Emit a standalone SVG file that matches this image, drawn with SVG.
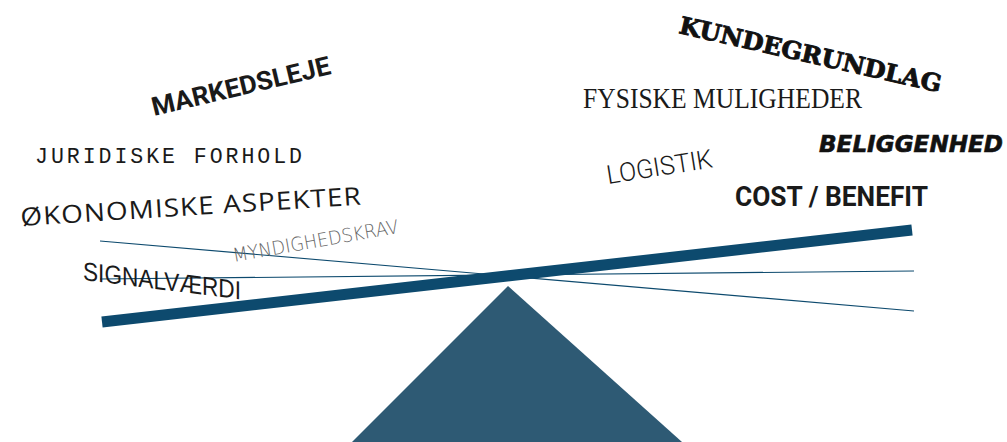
<svg xmlns="http://www.w3.org/2000/svg" width="1007" height="442" viewBox="0 0 1007 442">
<style>
.t{fill:#1a1a1a}
.thin{stroke:#0d4a6e;stroke-width:1.2;fill:none}
</style>
<rect width="1007" height="442" fill="#ffffff"/>
<g id="scale">
<polygon points="508,286 352,442 682,442" fill="#2e5a74"/>
<g id="connectors">
<line class="thin" x1="100" y1="241" x2="914" y2="311"/>
<line class="thin" x1="100" y1="279" x2="914" y2="271"/>
<line x1="102" y1="322" x2="912" y2="230" stroke="#0d4a6e" stroke-width="11"/>
</g>
</g>
<g id="markedsleje"><text class="t" transform="translate(154,116) rotate(-13.3)" font-family="Roboto, 'DejaVu Sans', sans-serif" font-weight="700" font-size="26" textLength="183" lengthAdjust="spacingAndGlyphs">MARKEDSLEJE</text></g>
<g id="juridiske"><text class="t" x="35" y="163" font-family="'Liberation Mono', monospace" font-size="22" letter-spacing="3" textLength="270" lengthAdjust="spacingAndGlyphs">JURIDISKE FORHOLD</text></g>
<g id="okonomiske"><text class="t" transform="translate(21,226) rotate(-3.6)" font-family="'Open Sans', sans-serif" font-size="25" textLength="342" lengthAdjust="spacingAndGlyphs" letter-spacing="1">ØKONOMISKE ASPEKTER</text></g>
<g id="myndighedskrav"><text transform="translate(234,262) rotate(-10)" fill="#666" font-family="'DejaVu Sans', sans-serif" font-weight="200" font-size="19" textLength="168" lengthAdjust="spacingAndGlyphs">MYNDIGHEDSKRAV</text></g>
<g id="signalvaerdi"><text class="t" transform="translate(83,280) skewY(7)" font-family="'Liberation Sans', sans-serif" font-size="26" textLength="158" lengthAdjust="spacingAndGlyphs">SIGNALVÆRDI</text></g>
<g id="kundegrundlag"><text fill="#111" stroke="#111" stroke-width="0.9" transform="translate(678,33) rotate(12.8)" font-family="'DejaVu Serif', serif" font-weight="900" font-size="24" textLength="268" lengthAdjust="spacingAndGlyphs">KUNDEGRUNDLAG</text></g>
<g id="fysiske"><text class="t" x="583" y="108" font-family="'Liberation Serif', serif" font-size="29" textLength="279" lengthAdjust="spacingAndGlyphs">FYSISKE MULIGHEDER</text></g>
<g id="beliggenhed"><text fill="#111" stroke="#111" stroke-width="0.6" x="819" y="152" font-family="'DejaVu Sans', sans-serif" font-weight="700" font-style="italic" font-size="23" textLength="184" lengthAdjust="spacingAndGlyphs">BELIGGENHED</text></g>
<g id="logistik"><text class="t" transform="translate(608,184) rotate(-9)" font-family="Roboto, sans-serif" font-weight="300" font-size="26" textLength="107" lengthAdjust="spacingAndGlyphs">LOGISTIK</text></g>
<g id="cost"><text class="t" x="735" y="206" font-family="Roboto, sans-serif" font-weight="700" font-size="28" textLength="193" lengthAdjust="spacingAndGlyphs">COST / BENEFIT</text></g>
</svg>
